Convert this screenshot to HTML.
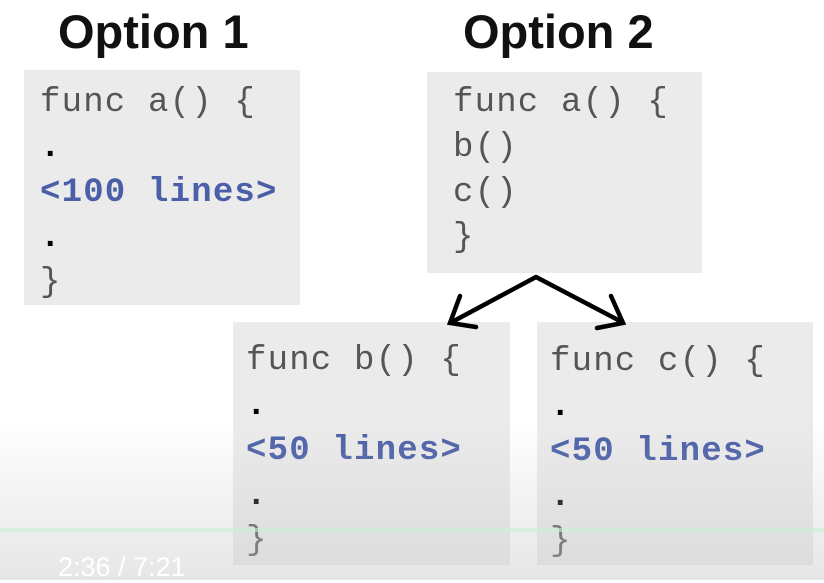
<!DOCTYPE html>
<html><head><style>
body{margin:0;width:824px;height:580px;background:#fff;position:relative;overflow:hidden;font-family:"Liberation Sans",sans-serif}
.t{position:absolute;font-weight:bold;font-size:47px;color:#111;top:4px}
.b{position:absolute;background:#ebebeb}
.c{position:absolute;font-family:"Liberation Mono",monospace;font-size:34px;letter-spacing:1.2px;color:#555;line-height:45px;white-space:pre}
.c b{color:#4a5fa8}
.c i{font-style:normal;color:#000;font-weight:bold}
.ov{position:absolute;left:0;top:420px;width:824px;height:160px;background:linear-gradient(rgba(200,200,200,0),rgba(200,200,200,0.45))}
</style></head><body>
<div class="t" style="left:58px">Option 1</div>
<div class="t" style="left:463px">Option 2</div>
<div class="b" style="left:24px;top:70px;width:276px;height:235px"></div>
<div class="b" style="left:427px;top:72px;width:275px;height:201px"></div>
<div class="b" style="left:233px;top:322px;width:277px;height:243px"></div>
<div class="b" style="left:537px;top:322px;width:276px;height:243px"></div>
<div class="c" style="left:40px;top:81px">func a() {
<i>.</i>
<b>&lt;100 lines&gt;</b>
<i>.</i>
}</div>
<div class="c" style="left:453px;top:81px">func a() {
b()
c()
}</div>
<div class="c" style="left:246px;top:339px">func b() {
<i>.</i>
<b>&lt;50 lines&gt;</b>
<i>.</i>
}</div>
<div class="c" style="left:550px;top:340px">func c() {
<i>.</i>
<b>&lt;50 lines&gt;</b>
<i>.</i>
}</div>
<svg style="position:absolute;left:0;top:0" width="824" height="580">
<g stroke="#000" stroke-width="4.5" fill="none" stroke-linecap="round">
<path d="M536 277 L452 322 M536 277 L622 322"/>
<path d="M460 296 L450 323 L476 327"/>
<path d="M611 296 L623 323 L597 328"/>
</g></svg>
<div class="ov"></div>
<div style="position:absolute;left:0;top:528px;width:824px;height:4px;background:rgba(200,240,210,0.6)"></div>
<div style="position:absolute;left:58px;top:552px;color:#fff;font-size:27px">2:36 / 7:21</div>
</body></html>
